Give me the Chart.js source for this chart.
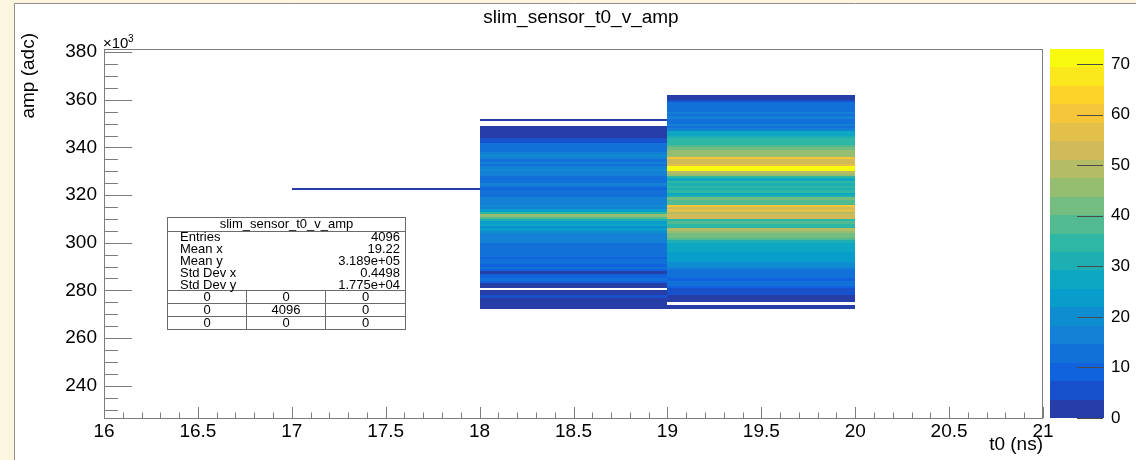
<!DOCTYPE html>
<html>
<head>
<meta charset="utf-8">
<script src="https://cdn.jsdelivr.net/npm/chart.js@4/dist/chart.umd.min.js"></script>
<style>
  html, body { margin: 0; padding: 0; background: #fdf6df; }
  canvas { display: block; }
</style>
</head>
<body>
<canvas id="c" width="1136" height="460"></canvas>
<script>
// ---- histogram content -------------------------------------------------
const histTitle = 'slim_sensor_t0_v_amp';
const xTitle = 't0 (ns)';
const yTitle = 'amp (adc)';

const xRange = [16, 21];                 // t0 (ns)
const yRange = [226.45, 381.3];          // amp, x10^3 adc
const xTickValues = [16, 16.5, 17, 17.5, 18, 18.5, 19, 19.5, 20, 20.5, 21];
const yTickValues = [240, 260, 280, 300, 320, 340, 360, 380];   // x10^3 adc
const zTickValues = [0, 10, 20, 30, 40, 50, 60, 70];

// t0 bins (1 ns wide) that hold entries, and the amp row each column starts at
const t0Edges = [17, 18, 19, 20];
const ampRowWidth = 1;                   // x10^3 adc per row
const ampStart = [322, 272, 272];        // x10^3 adc

const counts_t17 = [1];
const counts_t18 = [
  2, 2, 3, 2, 3, 6, 2, 3, 0, 3, 2,                 // 272-282
  10, 11, 9, 10, 3, 10, 11, 9, 12, 11, 10,          // 283-293
  13, 14, 12, 14, 13, 14, 16, 15, 18, 16,           // 294-303
  21, 23, 20, 26, 24, 30, 39, 45, 36, 24,           // 304-313
  18, 19, 16, 17, 15, 12, 11, 13, 10, 14,           // 314-323
  15, 13, 14, 12, 18, 17, 19, 16, 14, 16,           // 324-333
  13, 15, 20, 18, 12, 13, 14, 11, 7, 5,             // 334-343
  3, 2, 2, 3, 2, 0, 0, 2                            // 344-351
];
const counts_t19 = [
  3, 2, 0, 3, 2, 3, 5, 4, 6,                        // 272-280
  9, 11, 12, 10, 12, 13, 11, 14, 17, 20,            // 281-290
  19, 23, 22, 25, 24, 27, 26, 29, 27, 31,           // 291-300
  40, 43, 41, 44, 50, 36, 33, 38, 35, 52,           // 301-310
  54, 51, 55, 53, 61, 40, 37, 42, 31, 28,           // 311-320
  33, 30, 34, 31, 33, 29, 35, 46, 49, 71,           // 321-330
  73, 55, 52, 54, 62, 47, 44, 46, 43, 38,           // 331-340
  35, 36, 33, 30, 28, 26, 16, 14, 15, 12,           // 341-350
  14, 17, 13, 15, 12, 14, 11, 12, 4, 3, 3           // 351-361
];
const columns = [counts_t17, counts_t18, counts_t19];

// statistics box
const statsLabels = ['Entries', 'Mean x', 'Mean y', 'Std Dev x', 'Std Dev y'];
const statsValues = ['4096', '19.22', '3.189e+05', '0.4498', '1.775e+04'];
const statsGrid = [[0, 0, 0], [0, 4096, 0], [0, 0, 0]];

// ---- colour palette (kBird) -------------------------------------------
const birdStops = [0, 0.125, 0.25, 0.375, 0.5, 0.625, 0.75, 0.875, 1];
const birdR = [0.2082, 0.0592, 0.0780, 0.0232, 0.1802, 0.5301, 0.8186, 0.9956, 0.9764];
const birdG = [0.1664, 0.3599, 0.5041, 0.6419, 0.7178, 0.7492, 0.7328, 0.7862, 0.9832];
const birdB = [0.5293, 0.8684, 0.8385, 0.7914, 0.6425, 0.4662, 0.3499, 0.1968, 0.0539];
const nLevels = 20;
const zMax = Math.max(...columns.flat());

function birdColor(t) {
  let s = 1;
  while (s < birdStops.length - 1 && t > birdStops[s]) s++;
  const f = (t - birdStops[s - 1]) / (birdStops[s] - birdStops[s - 1]);
  const mix = (a) => Math.round(255 * (a[s - 1] + f * (a[s] - a[s - 1])));
  return `rgb(${mix(birdR)},${mix(birdG)},${mix(birdB)})`;
}
function levelColor(level) {
  const idx = Math.min(254, Math.floor((level + 0.99) * 255 / nLevels));
  return birdColor(idx / 254);
}
function countColor(n) {
  return levelColor(Math.min(nLevels - 1, Math.floor(n / zMax * nLevels)));
}

const FONT = '"Liberation Sans", Arial, Helvetica, sans-serif';
const axisGrey = '#7c7c7c';

// ---- drawing helpers ---------------------------------------------------
const panelPlugin = {
  id: 'panel',
  beforeDraw(chart) {
    const ctx = chart.ctx;
    ctx.save();
    ctx.fillStyle = '#fdf6df';
    ctx.fillRect(0, 0, chart.width, chart.height);
    ctx.fillStyle = '#ffffff';
    ctx.fillRect(14, 3, chart.width - 14, chart.height - 3);
    ctx.strokeStyle = '#8e8e8e';
    ctx.lineWidth = 1;
    ctx.beginPath();
    ctx.moveTo(14.5, chart.height);
    ctx.lineTo(14.5, 3.5);
    ctx.lineTo(chart.width, 3.5);
    ctx.stroke();
    ctx.restore();
  }
};

const heatmapPlugin = {
  id: 'heatmap',
  beforeDatasetsDraw(chart) {
    const { ctx, scales: { x, y } } = chart;
    ctx.save();
    columns.forEach((counts, c) => {
      const xl = Math.round(x.getPixelForValue(t0Edges[c]));
      const xr = Math.round(x.getPixelForValue(t0Edges[c + 1]));
      counts.forEach((n, i) => {
        if (n <= 0) return;
        const lo = ampStart[c] + i * ampRowWidth;
        const yb = Math.round(y.getPixelForValue(lo * 1000));
        const yt = Math.round(y.getPixelForValue((lo + ampRowWidth) * 1000));
        ctx.fillStyle = countColor(n);
        ctx.fillRect(xl, yt, xr - xl, yb - yt);
      });
    });
    ctx.restore();
  }
};

const decorPlugin = {
  id: 'decor',
  afterDraw(chart) {
    const { ctx, chartArea: a, scales: { x, y, z } } = chart;
    ctx.save();
    ctx.lineWidth = 1;

    // frame
    ctx.strokeStyle = axisGrey;
    ctx.strokeRect(a.left + 0.5, a.top + 0.5, a.right - a.left - 1, a.bottom - a.top);

    // x ticks (major 0.5, minor 0.1)
    ctx.beginPath();
    for (let k = Math.ceil(xRange[0] * 10); k <= xRange[1] * 10; k++) {
      const px = Math.round(x.getPixelForValue(k / 10)) + 0.5;
      const len = (k % 5 === 0) ? 11 : 5.5;
      ctx.moveTo(px, a.bottom);
      ctx.lineTo(px, a.bottom - len);
    }
    // y ticks (major 20, minor 5, x10^3)
    for (let k = Math.ceil(yRange[0] / 5); k * 5 <= yRange[1]; k++) {
      const py = Math.round(y.getPixelForValue(k * 5000)) + 0.5;
      const len = (k % 4 === 0) ? 28 : 14;
      ctx.moveTo(a.left, py);
      ctx.lineTo(a.left + len, py);
    }
    ctx.stroke();

    // colour palette
    const pl = a.right + 7, pr = a.right + 61;
    for (let i = 0; i < nLevels; i++) {
      const yb = Math.round(z.getPixelForValue(i * zMax / nLevels));
      const yt = Math.round(z.getPixelForValue((i + 1) * zMax / nLevels));
      ctx.fillStyle = levelColor(i);
      ctx.fillRect(pl, yt, pr - pl, yb - yt);
    }
    ctx.strokeStyle = '#4a4a4a';
    ctx.beginPath();
    zTickValues.forEach(v => {
      const py = Math.round(z.getPixelForValue(v)) + 0.5;
      ctx.moveTo(pr - 27, py);
      ctx.lineTo(pr - 1, py);
    });
    ctx.stroke();

    // titles
    ctx.fillStyle = '#000';
    ctx.font = `19px ${FONT}`;
    ctx.textAlign = 'center';
    ctx.textBaseline = 'alphabetic';
    ctx.fillText(histTitle, 581, 23);

    ctx.textAlign = 'right';
    ctx.fillText(xTitle, a.right, 450);

    ctx.save();
    ctx.translate(34, 33);
    ctx.rotate(-Math.PI / 2);
    ctx.textAlign = 'right';
    ctx.fillText(yTitle, 0, 0);
    ctx.restore();

    // x10^3 multiplier
    ctx.textAlign = 'left';
    ctx.font = `15px ${FONT}`;
    ctx.fillText('\u00d710', a.left - 1, 48);
    ctx.font = `10px ${FONT}`;
    ctx.fillText('3', a.left + 24, 42);

    // statistics box
    const bx0 = 167.5, bx1 = 405.5, by0 = 217.5, by1 = 329.5;
    const colX = [246.5, 325.5];
    ctx.fillStyle = '#fff';
    ctx.fillRect(bx0, by0, bx1 - bx0, by1 - by0);
    ctx.strokeStyle = '#6a6a6a';
    ctx.strokeRect(bx0, by0, bx1 - bx0, by1 - by0);
    ctx.beginPath();
    ctx.moveTo(bx0, 231.5); ctx.lineTo(bx1, 231.5);
    ctx.moveTo(bx0, 290.5); ctx.lineTo(bx1, 290.5);
    ctx.moveTo(bx0, 303.5); ctx.lineTo(bx1, 303.5);
    ctx.moveTo(bx0, 316.5); ctx.lineTo(bx1, 316.5);
    colX.forEach(cx => { ctx.moveTo(cx, 290.5); ctx.lineTo(cx, by1); });
    ctx.stroke();

    ctx.fillStyle = '#000';
    ctx.font = `13px ${FONT}`;
    ctx.textBaseline = 'middle';
    ctx.textAlign = 'center';
    ctx.fillText(histTitle, (bx0 + bx1) / 2, 224.5);
    statsLabels.forEach((lab, i) => {
      const cy = 237.5 + i * 12;
      ctx.textAlign = 'left';
      ctx.fillText(lab, 180, cy);
      ctx.textAlign = 'right';
      ctx.fillText(statsValues[i], 400, cy);
    });
    ctx.textAlign = 'center';
    const cellCx = [(bx0 + colX[0]) / 2, (colX[0] + colX[1]) / 2, (colX[1] + bx1) / 2];
    statsGrid.forEach((row, r) => {
      row.forEach((v, c) => ctx.fillText(String(v), cellCx[c], 297.5 + r * 13));
    });

    ctx.restore();
  }
};

// axis boxes keep a fixed size and ask for no extra room around the plot
function fixBox(size, horizontal) {
  return s => {
    if (horizontal) s.height = size; else s.width = size;
    s.paddingTop = 0; s.paddingBottom = 0; s.paddingLeft = 0; s.paddingRight = 0;
  };
}
const noGrid = { display: false, drawTicks: false, tickLength: 0 };

// ---- chart -------------------------------------------------------------
new Chart(document.getElementById('c'), {
  type: 'scatter',
  data: { datasets: [] },
  options: {
    responsive: false,
    animation: false,
    devicePixelRatio: 1,
    layout: { padding: { top: 49, left: 0, right: 0, bottom: 0 } },
    plugins: { legend: { display: false }, tooltip: { enabled: false }, title: { display: false } },
    scales: {
      x: {
        type: 'linear', position: 'bottom', min: xRange[0], max: xRange[1],
        grid: noGrid, border: { display: false },
        afterBuildTicks: s => { s.ticks = xTickValues.map(v => ({ value: v })); },
        afterFit: fixBox(42, true),
        ticks: { autoSkip: false, maxRotation: 0, padding: 2, color: '#000',
                 font: { family: FONT, size: 19 }, callback: v => String(v) }
      },
      y: {
        type: 'linear', position: 'left', min: yRange[0] * 1000, max: yRange[1] * 1000,
        grid: noGrid, border: { display: false },
        afterBuildTicks: s => { s.ticks = yTickValues.map(v => ({ value: v * 1000 })); },
        afterFit: fixBox(104, false),
        ticks: { autoSkip: false, padding: 7, color: '#000',
                 font: { family: FONT, size: 19 }, callback: v => String(v / 1000) }
      },
      z: {
        type: 'linear', position: 'right', min: 0, max: zMax,
        grid: noGrid, border: { display: false },
        afterBuildTicks: s => { s.ticks = zTickValues.map(v => ({ value: v })); },
        afterFit: fixBox(93, false),
        ticks: { autoSkip: false, padding: 68, color: '#000',
                 font: { family: FONT, size: 17 }, callback: v => String(v) }
      }
    }
  },
  plugins: [panelPlugin, heatmapPlugin, decorPlugin]
});
</script>
</body>
</html>
